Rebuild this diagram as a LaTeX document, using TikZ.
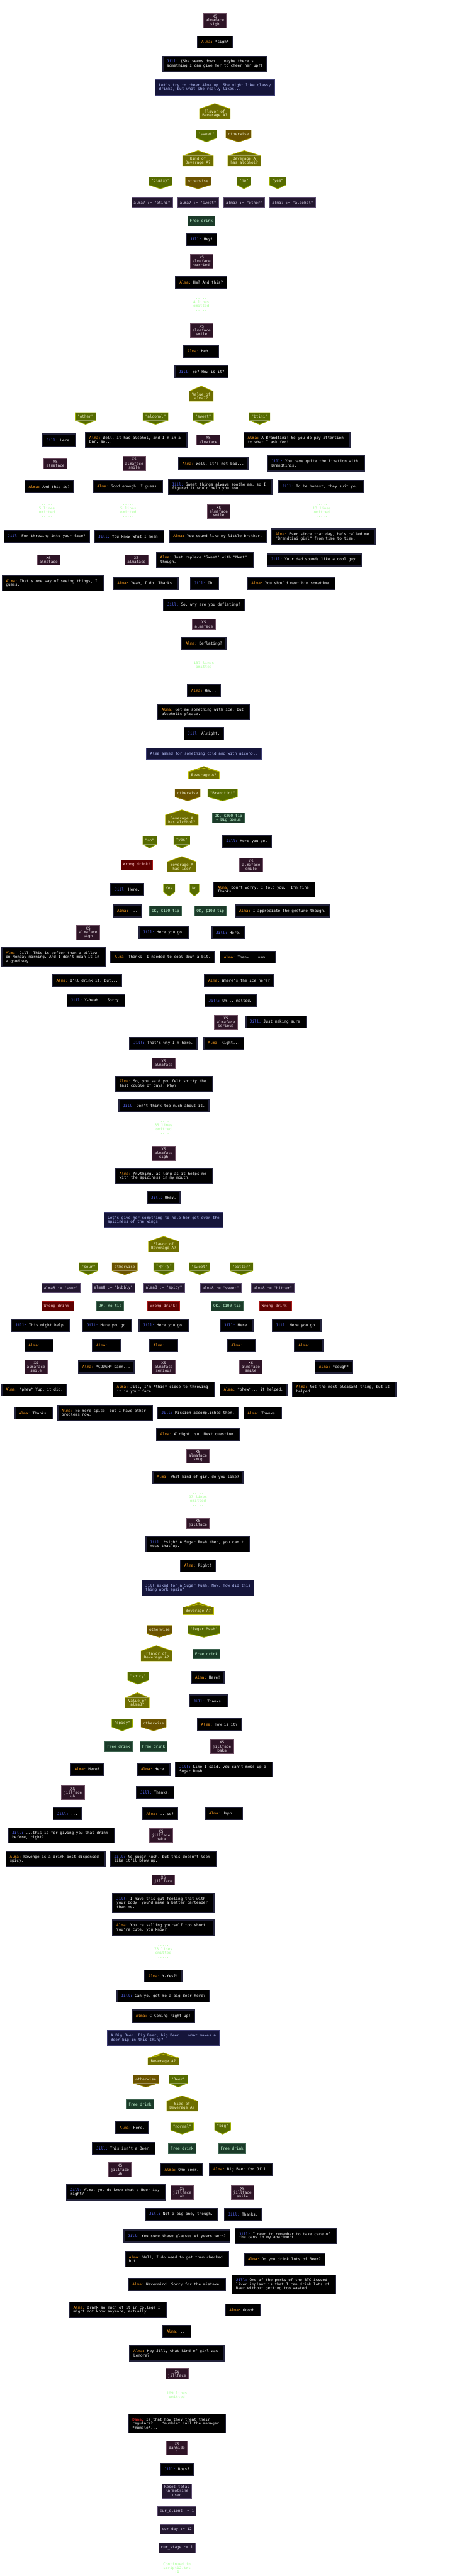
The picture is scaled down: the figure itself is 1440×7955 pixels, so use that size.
\documentclass[tikz,border=0pt]{standalone}
\usepackage{fontspec}
\setmonofont{DejaVu Sans Mono}
\usepackage{xcolor}
\usepackage{tikz}
\usetikzlibrary{arrows.meta,backgrounds}
\definecolor{almaname}{HTML}{FFA01E}
\definecolor{jillname}{HTML}{5A6CFF}
\definecolor{dananame}{HTML}{FF2A2A}
\definecolor{sayline}{HTML}{24243C}
\definecolor{facefill}{HTML}{2E1426}
\definecolor{faceline}{HTML}{6E5064}
\definecolor{facetext}{HTML}{EDE4EA}
\definecolor{narrfill}{HTML}{15153A}
\definecolor{narrline}{HTML}{3E3E74}
\definecolor{narrtext}{HTML}{BCC6FF}
\definecolor{condfill}{HTML}{6E6E00}
\definecolor{condline}{HTML}{BDBD00}
\definecolor{condtext}{HTML}{F4F4C4}
\definecolor{litfill}{HTML}{566B00}
\definecolor{litline}{HTML}{9CAE00}
\definecolor{othfill}{HTML}{6B5300}
\definecolor{othline}{HTML}{9E8E00}
\definecolor{casetext}{HTML}{EAEAC8}
\definecolor{asgnfill}{HTML}{23172F}
\definecolor{asgnline}{HTML}{5E4E72}
\definecolor{asgntext}{HTML}{DCD4EC}
\definecolor{goodfill}{HTML}{1B3B29}
\definecolor{goodline}{HTML}{3E6450}
\definecolor{goodtext}{HTML}{CCFFDA}
\definecolor{badfill}{HTML}{5E0000}
\definecolor{badline}{HTML}{A61A1A}
\definecolor{badtext}{HTML}{FFCACA}
\definecolor{omitcol}{HTML}{A6FF96}
\newcommand{\alma}{\textcolor{almaname}{Alma:}}
\newcommand{\jill}{\textcolor{jillname}{Jill:}}
\newcommand{\dana}{\textcolor{dananame}{Dana:}}
\newcommand{\tsp}{\hphantom{x}}

\begin{document}
\begin{tikzpicture}[x=1pt,y=-1pt,font=\ttfamily\fontsize{11.7}{11}\selectfont\frenchspacing,>=Latex]
\tikzset{say/.style={draw=sayline,line width=3,fill=black,text=white,align=left,inner xsep=12,inner ysep=2,outer sep=0,minimum height=37}, say2/.style={say,minimum height=47}, say3/.style={say,minimum height=58},
face/.style={draw=faceline,line width=1.5,fill=facefill,text=facetext,align=center,inner xsep=7.25,inner ysep=1,outer sep=0,minimum height=43,font=\ttfamily\fontsize{11.7}{12}\selectfont}, face2/.style={face,minimum height=31},
narr/.style={draw=narrline,line width=2,fill=narrfill,text=narrtext,align=left,inner xsep=11.5,inner ysep=2,outer sep=0,minimum height=36}, narr2/.style={narr,minimum height=47},
assign/.style={draw=asgnline,line width=1.5,fill=asgnfill,text=asgntext,align=center,inner xsep=6.75,inner ysep=1,outer sep=0,minimum height=30,font=\ttfamily\fontsize{11.7}{12}\selectfont}, assign3/.style={assign,minimum height=44},
good/.style={draw=goodline,line width=1.5,fill=goodfill,text=goodtext,align=center,inner xsep=6.75,inner ysep=1,outer sep=0,minimum height=30,font=\ttfamily\fontsize{11.7}{12}\selectfont}, good2/.style={good,minimum height=32},
bad/.style={draw=badline,line width=1.5,fill=badfill,text=badtext,align=center,inner xsep=6.75,inner ysep=1,outer sep=0,minimum height=30},
omit/.style={text=omitcol,align=center,inner sep=0,font=\ttfamily\fontsize{11.7}{12.3}\selectfont},
roof/.style={append after command={\pgfextra{\fill[condfill] (\tikzlastnode.north west) -- ([yshift=#1]\tikzlastnode.north) -- (\tikzlastnode.north east) -- cycle; \draw[condline,line width=1.5] (\tikzlastnode.south west) -- (\tikzlastnode.north west) -- ([yshift=#1]\tikzlastnode.north) -- (\tikzlastnode.north east) -- (\tikzlastnode.south east) -- cycle;}}},
cond/.style={fill=condfill,text=condtext,align=center,inner xsep=8.5,inner ysep=1,outer sep=0,minimum height=31,font=\ttfamily\fontsize{11.7}{12}\selectfont,roof=16}, cond1/.style={cond,minimum height=21,roof=11},
vee/.style 2 args={fill=#1,text=casetext,inner xsep=7,inner ysep=1,outer sep=0,minimum height=24,append after command={\pgfextra{\fill[#1] (\tikzlastnode.south west) -- ([yshift=-12]\tikzlastnode.south) -- (\tikzlastnode.south east) -- cycle; \draw[#2,line width=1.5] (\tikzlastnode.north west) -- (\tikzlastnode.north east) -- (\tikzlastnode.south east) -- ([yshift=-12]\tikzlastnode.south) -- (\tikzlastnode.south west) -- cycle;}}},
lit/.style={vee={litfill}{litline}}, otherw/.style={vee={othfill}{othline}},
e/.style={draw=white,line width=1,-{Latex[length=6,width=5]}}}
\useasboundingbox (0,0) rectangle (1440,7955);
% cheer Alma up: first drink
\node[omit] (dots0) at (663,4) {.....};
\node[face] (f1) at (663,64) {XS\\almaface\\sigh};
\node[say] (sigh) at (664,130) {\alma{} *sigh*};
\node[say2] (down) at (663,197) {\jill{} (She seems down... maybe there's\tsp\\something I can give her to cheer her up?)};
\node[narr2] (hint1) at (663,270) {Let's try to cheer Alma up. She might like classy\\drinks, but what she really likes...};
\node[cond] (flav1) at (663,351.5) {Flavor of\\Beverage A?};
\node[lit] (csweet1) at (637,414) {"sweet"};
\node[otherw] (coth1) at (736,414) {otherwise};
\node[cond] (kind) at (611,496.5) {Kind of\\Beverage A?};
\node[cond] (alc1) at (754,496.5) {Beverage A\\has alcohol?};
\node[lit] (cclassy) at (495,559) {"classy"};
\node[otherw] (coth2) at (611,559) {otherwise};
\node[lit] (cno1) at (753,559) {"no"};
\node[lit] (cyes1) at (857,559) {"yes"};
\node[assign] (abtini) at (469,625) {alma7 := "btini"};
\node[assign] (asweet) at (611,625) {alma7 := "sweet"};
\node[assign] (aother) at (754,625) {alma7 := "other"};
\node[assign] (aalc) at (903,625) {alma7 := "alcohol"};
\node[good] (free1) at (621,682) {Free drink};
\node[say] (hey) at (622,740) {\jill{} Hey!};
\node[face] (f2) at (622,806) {XS\\almaface\\worried};
\node[say] (hm) at (621,872) {\alma{} Hm? And this?};
\node[omit] (om4) at (621,942) {.....\\4 lines\\omitted\\.....};
\node[face] (f3) at (622,1020) {XS\\almaface\\smile};
\node[say] (heh) at (621,1085) {\alma{} Heh...};
\node[say] (sohow) at (622,1148) {\jill{} So? How is it?};
\node[cond] (val7) at (621,1223.5) {Value of\\alma7?};
\node[lit] (vother) at (264,1286) {"other"};
\node[lit] (valc) at (480,1286) {"alcohol"};
\node[lit] (vsweet) at (627,1286) {"sweet"};
\node[lit] (vbtini) at (801,1286) {"btini"};
% four reactions
\node[say] (here1) at (182,1359) {\jill{} Here.};
\node[say2] (wellalc) at (420,1359) {\alma{} Well, it has alcohol, and I'm in a\tsp\\bar, so...};
\node[face2] (f4) at (643,1359) {XS\\almaface};
\node[say2] (btini) at (916,1359) {\alma{} A Brandtini! So you do pay attention\tsp\\to what I ask for!};
\node[face2] (f5) at (171,1432) {XS\\almaface};
\node[face] (f6) at (414,1431) {XS\\almaface\\smile};
\node[say] (notbad) at (658,1432) {\alma{} Well, it's not bad...};
\node[say2] (fixation) at (975,1431) {\jill{} You have quite the fixation with\tsp\\Brandtinis.};
\node[say] (andthis) at (152,1503) {\alma{} And this is?};
\node[say] (goodenough) at (395,1503) {\alma{} Good enough, I guess.};
\node[say2] (soothe) at (679,1503) {\jill{} Sweet things always soothe me, so I\tsp\\figured it would help you too.};
\node[say] (suit) at (991,1503) {\jill{} To be honest, they suit you.};
\node[omit] (om5a) at (145,1579) {.....\\5 lines\\omitted\\.....};
\node[omit] (om5b) at (396,1579) {.....\\5 lines\\omitted\\.....};
\node[face] (f7) at (675,1580) {XS\\almaface\\smile};
\node[omit] (om13) at (993,1579) {.....\\13 lines\\omitted\\.....};
\node[say] (throwing) at (144,1657) {\jill{} For throwing into your face?};
\node[say] (mean) at (399,1657) {\jill{} You know what I mean.};
\node[say] (brother) at (672,1657) {\alma{} You sound like my little brother.};
\node[say2] (btgirl) at (998,1657) {\alma{} Ever since that day, he's called me\tsp\\"Brandtini girl" from time to time.};
\node[face2] (f8) at (150,1729) {XS\\almaface};
\node[face2] (f9) at (421,1729) {XS\\almaface};
\node[say2] (meat) at (632,1729) {\alma{} Just replace "Sweet" with "Meat"\tsp\\though.};
\node[say] (dad) at (970,1729) {\jill{} Your dad sounds like a cool guy.};
\node[say2] (oneway) at (163,1801) {\alma{} That's one way of seeing things, I\tsp\\guess.};
\node[say] (yeah) at (450,1801) {\alma{} Yeah, I do. Thanks.};
\node[say] (oh) at (631,1801) {\jill{} Oh.};
\node[say] (meet) at (899,1801) {\alma{} You should meet him sometime.};
\node[say] (deflating) at (629,1868) {\jill{} So, why are you deflating?};
\node[face2] (f10) at (629,1928) {XS\\almaface};
\node[say] (deflq) at (629,1988) {\alma{} Deflating?};
\node[omit] (om137) at (629,2057) {.....\\137 lines\\omitted\\.....};
% something cold with alcohol
\node[say] (hmm) at (629,2132) {\alma{} Hm...};
\node[say2] (ice) at (629,2199) {\alma{} Get me something with ice, but\tsp\\alcoholic please.};
\node[say] (alright) at (629,2266) {\jill{} Alright.};
\node[narr] (hint2) at (629,2328) {Alma asked for something cold and with alcohol.};
\node[cond1] (bev1) at (629,2393.5) {Beverage A?};
\node[otherw] (both) at (579,2449) {otherwise};
\node[lit] (bbrand) at (687,2449) {"Brandtini"};
\node[cond] (alc2) at (561,2532.5) {Beverage A\\has alcohol?};
\node[good2] (tip200) at (705,2526) {OK, \$200 tip\\+ Big bonus};
\node[lit] (ano) at (462,2595) {"no"};
\node[lit] (ayes) at (561,2595) {"yes"};
\node[say] (hereyougo1) at (762,2598) {\jill{} Here you go.};
\node[bad] (wrong1) at (422,2671) {Wrong drink!};
\node[cond] (hasice) at (561,2676.5) {Beverage A\\has ice?};
\node[face] (f11) at (775,2671) {XS\\almaface\\smile};
\node[say] (here2) at (393,2747) {\jill{} Here.};
\node[lit] (iyes) at (522,2743) {Yes};
\node[lit] (ino) at (600,2743) {No};
\node[say2] (dontworry) at (816,2747) {\alma{} Don't worry, I told you.~~I'm fine.\\Thanks.};
\node[say] (dots1) at (393,2813) {\alma{} ...};
\node[good] (tip100a) at (511,2813) {OK, \$100 tip};
\node[good] (tip100b) at (649,2813) {OK, \$100 tip};
\node[say] (gesture) at (872,2813) {\alma{} I appreciate the gesture though.};
\node[face] (f12) at (272,2880) {XS\\almaface\\sigh};
\node[say] (hereyougo2) at (505,2880) {\jill{} Here you go.};
\node[say] (here3) at (705,2880) {\jill{} Here.};
\node[say3] (pillow) at (166,2956) {\alma{} Jill. This is softer than a pillow\tsp\\on Monday morning. And I don't mean it in\tsp\\a good way.};
\node[say] (cool) at (502,2956) {\alma{} Thanks, I needed to cool down a bit.};
\node[say] (umm) at (765,2956) {\alma{} Than-... umm...};
\node[say] (drinkit) at (269,3028) {\alma{} I'll drink it, but...};
\node[say] (where) at (738,3028) {\alma{} Where's the ice here?};
\node[say] (sorry) at (296,3090) {\jill{} Y-Yeah... Sorry.};
\node[say] (melted) at (711,3090) {\jill{} Uh... melted.};
\node[face] (f13) at (697,3156) {XS\\almaface\\serious};
\node[say] (sure) at (852,3156) {\jill{} Just making sure.};
\node[say] (why) at (504,3222) {\jill{} That's why I'm here.};
\node[say] (right1) at (691,3222) {\alma{} Right...};
\node[face2] (f14) at (505,3282) {XS\\almaface};
\node[say2] (shitty) at (506,3347) {\alma{} So, you said you felt shitty the\tsp\\last couple of days. Why?};
\node[say] (toomuch) at (506,3414) {\jill{} Don't think too much about it.};
\node[omit] (om85) at (505,3484) {.....\\85 lines\\omitted\\.....};
% the spicy wings
\node[face] (f15) at (505,3562) {XS\\almaface\\sigh};
\node[say2] (spicy) at (506,3632) {\alma{} Anything, as long as it helps me\tsp\\with the spiciness in my mouth.};
\node[say] (okay) at (505,3699) {\jill{} Okay.};
\node[narr2] (hint3) at (505,3767) {Let's give her something to help her get over the\\spiciness of the wings.};
\node[cond] (flav2) at (505,3849.5) {Flavor of\\Beverage A?};
\node[lit] (fsour) at (273,3912) {"sour"};
\node[otherw] (foth) at (385,3912) {otherwise};
\node[lit] (fspicy) at (506,3912) {"spicy"};
\node[lit] (fsweet) at (616,3912) {"sweet"};
\node[lit] (fbitter) at (745,3912) {"bitter"};
\node[assign] (ssour) at (188,3977) {alma8 := "sour"};
\node[assign] (sbubbly) at (350,3977) {alma8 := "bubbly"};
\node[assign] (sspicy) at (506,3977) {alma8 := "spicy"};
\node[assign] (ssweet) at (681,3977) {alma8 := "sweet"};
\node[assign] (sbitter) at (842,3977) {alma8 := "bitter"};
\node[bad] (owrong1) at (178,4034) {Wrong drink!};
\node[good] (onotip) at (340,4034) {OK, no tip};
\node[bad] (owrong2) at (505,4034) {Wrong drink!};
\node[good] (otip100) at (701,4034) {OK, \$100 tip};
\node[bad] (owrong3) at (850,4034) {Wrong drink!};
\node[say] (jhelp) at (125,4093) {\jill{} This might help.};
\node[say] (jgo1) at (331,4093) {\jill{} Here you go.};
\node[say] (jgo2) at (505,4093) {\jill{} Here you go.};
\node[say] (jhere) at (730,4093) {\jill{} Here.};
\node[say] (jgo3) at (915,4093) {\jill{} Here you go.};
\node[say] (d1) at (120,4155) {\alma{} ...};
\node[say] (d2) at (329,4155) {\alma{} ...};
\node[say] (d3) at (505,4155) {\alma{} ...};
\node[say] (d4) at (745,4155) {\alma{} ...};
\node[say] (d5) at (953,4155) {\alma{} ...};
\node[face] (f16) at (111,4221) {XS\\almaface\\smile};
\node[say] (coughdamn) at (328,4221) {\alma{} *COUGH* Damn...};
\node[face] (f17) at (505,4221) {XS\\almaface\\serious};
\node[face] (f18) at (774,4221) {XS\\almaface\\smile};
\node[say] (cough) at (1030,4221) {\alma{} *cough*};
\node[say] (yup) at (106,4292) {\alma{} *phew* Yup, it did.};
\node[say2] (close) at (505,4291) {\alma{} Jill, I'm *this* close to throwing\tsp\\it in your face.};
\node[say] (helped) at (782,4292) {\alma{} *phew*... it helped.};
\node[say2] (pleasant) at (1062,4291) {\alma{} Not the most pleasant thing, but it\tsp\\helped.};
\node[say] (thanks1) at (104,4364) {\alma{} Thanks.};
\node[say2] (problems) at (324,4364) {\alma{} No more spice, but I have other\tsp\\problems now.};
\node[say] (mission) at (611,4364) {\jill{} Mission accomplished then.};
\node[say] (thanks2) at (810,4364) {\alma{} Thanks.};
\node[say] (nextq) at (611,4430) {\alma{} Alright, so. Next question.};
\node[face] (f19) at (611,4496) {XS\\almaface\\smug};
\node[say] (girl) at (611,4562) {\alma{} What kind of girl do you like?};
\node[omit] (om97) at (611,4632) {.....\\97 lines\\omitted\\.....};
% Sugar Rush
\node[face2] (f20) at (611,4704) {XS\\jillface};
\node[say2] (sugar) at (611,4769) {\jill{} *sigh* A Sugar Rush then, you can't\tsp\\mess that up.};
\node[say] (right2) at (611,4836) {\alma{} Right!};
\node[narr2] (hint4) at (611,4904) {Jill asked for a Sugar Rush. Now, how did this\\thing work again?};
\node[cond1] (bev2) at (612,4975.5) {Beverage A?};
\node[otherw] (soth) at (492,5032) {otherwise};
\node[lit] (srush) at (629,5032) {"Sugar Rush"};
\node[cond] (flav3) at (483,5113.5) {Flavor of\\Beverage A?};
\node[good] (free2) at (637,5108) {Free drink};
\node[lit] (rspicy) at (426,5177) {"spicy"};
\node[say] (here4) at (641,5180) {\alma{} Here!};
\node[cond] (val8) at (424,5258.5) {Value of\\alma8?};
\node[say] (thanks3) at (643,5253) {\jill{} Thanks.};
\node[lit] (vspicy) at (377,5321) {"spicy"};
\node[otherw] (voth) at (474,5321) {otherwise};
\node[say] (howis) at (677,5325) {\alma{} How is it?};
\node[good] (free3) at (366,5393) {Free drink};
\node[good] (free4) at (474,5393) {Free drink};
\node[face] (f21) at (685,5393) {XS\\jillface\\baka};
\node[say] (here5) at (269,5464) {\alma{} Here!};
\node[say] (here6) at (474,5464) {\alma{} Here.};
\node[say2] (likesaid) at (691,5464) {\jill{} Like I said, you can't mess up a\tsp\\Sugar Rush.};
\node[face] (f22) at (225,5535) {XS\\jillface\\uh};
\node[say] (thanks4) at (479,5535) {\jill{} Thanks.};
\node[say] (jdots) at (208,5601) {\jill{} ...};
\node[say] (soq) at (494,5601) {\alma{} ...so?};
\node[say] (hmph) at (691,5601) {\alma{} Hmph...};
\node[say2] (giving) at (189,5668) {\jill{} ...this is for giving you that drink\tsp\\before, right?};
\node[face] (f23) at (497,5668) {XS\\jillface\\baka};
\node[say2] (revenge) at (171,5740) {\alma{} Revenge is a drink best dispensed\tsp\\spicy.};
\node[say2] (blowup) at (504,5740) {\jill{} No Sugar Rush, but this doesn't look\tsp\\like it'll blow up.};
\node[face2] (f24) at (504,5805) {XS\\jillface};
\node[say3] (gut) at (504,5876) {\jill{} I have this gut feeling that with\tsp\\your body, you'd make a better bartender\tsp\\than me.};
\node[say2] (cute) at (504,5953) {\alma{} You're selling yourself too short.\tsp\\You're cute, you know?};
\node[omit] (om78) at (504,6028) {.....\\78 lines\\omitted\\.....};
% big Beer
\node[say] (yes) at (504,6102) {\alma{} Y-Yes?!};
\node[say] (bigbeer) at (504,6164) {\jill{} Can you get me a big Beer here?};
\node[say] (coming) at (504,6226) {\alma{} C-Coming right up!};
\node[narr2] (hint5) at (504,6293) {A Big Beer. Big Beer, big Beer... what makes a\\Beer big in this thing?};
\node[cond1] (bev3) at (504,6365.5) {Beverage A?};
\node[otherw] (eoth) at (450,6421) {otherwise};
\node[lit] (ebeer) at (550,6421) {"Beer"};
\node[good] (free5) at (432,6498) {Free drink};
\node[cond] (size) at (562,6503.5) {Size of\\Beverage A?};
\node[say] (here7) at (408,6570) {\alma{} Here.};
\node[lit] (znormal) at (562,6566) {"normal"};
\node[lit] (zbig) at (687,6566) {"big"};
\node[say] (notbeer) at (382,6635) {\jill{} This isn't a Beer.};
\node[good] (free6) at (562,6635) {Free drink};
\node[good] (free7) at (716,6635) {Free drink};
\node[face] (f25) at (370,6700) {XS\\jillface\\uh};
\node[say] (onebeer) at (561,6700) {\alma{} One Beer.};
\node[say] (bigjill) at (743,6700) {\alma{} Big Beer for Jill.};
\node[say2] (whatbeer) at (358,6770) {\jill{} Alma, you do know what a Beer is,\tsp\\right?};
\node[face] (f26) at (562,6771) {XS\\jillface\\uh};
\node[face] (f27) at (748,6771) {XS\\jillface\\smile};
\node[say] (notbig) at (559,6838) {\jill{} Not a big one, though.};
\node[say] (thanks5) at (750,6838) {\jill{} Thanks.};
\node[say] (glasses) at (546,6905) {\jill{} You sure those glasses of yours work?};
\node[say2] (cans) at (882,6905) {\jill{} I need to remember to take care of\tsp\\the cans in my apartment.};
\node[say2] (checked) at (546,6977) {\alma{} Well, I do need to get them checked\tsp\\but...};
\node[say] (lots) at (878,6977) {\alma{} Do you drink lots of Beer?};
\node[say] (mistake) at (546,7055) {\alma{} Nevermind. Sorry for the mistake.};
\node[say3] (perks) at (876,7055) {\jill{} One of the perks of the BTC-issued\tsp\\liver implant is that I can drink lots of\tsp\\Beer without getting too wasted.};
\node[say2] (college) at (364,7133) {\alma{} Drank so much of it in college I\tsp\\might not know anymore, actually.};
\node[say] (ooh) at (750,7133) {\alma{} Ooooh.};
\node[say] (dots2) at (546,7200) {\alma{} ...};
\node[say2] (lenore) at (546,7267) {\alma{} Hey Jill, what kind of girl was\tsp\\Lenore?};
\node[face2] (f28) at (546,7331) {XS\\jillface};
\node[omit] (om109) at (546,7400) {.....\\109 lines\\omitted\\.....};
% end of the day
\node[say3] (dana) at (546,7484) {\dana{} Is that how they treat their\tsp\\regulars?... *mumble* call the manager\tsp\\*mumble*...};
\node[face] (danhide) at (546,7560) {XS\\danhide\\1};
\node[say] (boss) at (546,7626) {\jill{} Boss?};
\node[assign3] (reset) at (546,7692) {Reset total\\Karmotrine\\used};
\node[assign] (client) at (546,7755) {cur\_client := 1};
\node[assign] (day) at (546,7811) {cur\_day := 12};
\node[assign] (stage) at (546,7868) {cur\_stage := 1};
\node[omit] (cont) at (546,7930) {Continued in\\script12.txt\\:1};
\begin{scope}[on background layer]
\fill[white] (0,0) rectangle (1440,7955);
\draw[e] (dots0)--(f1);\draw[e] (f1)--(sigh);\draw[e] (sigh)--(down);\draw[e] (down)--(hint1);\draw[e] (hint1)--(flav1);
\draw[e] (flav1)--(csweet1);\draw[e] (flav1)--(coth1);\draw[e] (csweet1)--(kind);\draw[e] (coth1)--(alc1);
\draw[e] (kind)--(cclassy);\draw[e] (kind)--(coth2);\draw[e] (alc1)--(cno1);\draw[e] (alc1)--(cyes1);
\draw[e] (cclassy)--(abtini);\draw[e] (coth2)--(asweet);\draw[e] (cno1)--(aother);\draw[e] (cyes1)--(aalc);
\draw[e] (abtini)--(free1);\draw[e] (asweet)--(free1);\draw[e] (aother)--(free1);\draw[e] (aalc)--(free1);
\draw[e] (free1)--(hey);\draw[e] (hey)--(f2);\draw[e] (f2)--(hm);\draw[e] (hm)--(om4);\draw[e] (om4)--(f3);\draw[e] (f3)--(heh);\draw[e] (heh)--(sohow);\draw[e] (sohow)--(val7);
\draw[e] (val7)--(vother);\draw[e] (val7)--(valc);\draw[e] (val7)--(vsweet);\draw[e] (val7)--(vbtini);
\draw[e] (vother)--(here1);\draw[e] (here1)--(f5);\draw[e] (f5)--(andthis);\draw[e] (andthis)--(om5a);\draw[e] (om5a)--(throwing);\draw[e] (throwing)--(f8);\draw[e] (f8)--(oneway);\draw[e] (oneway)--(deflating);
\draw[e] (valc)--(wellalc);\draw[e] (wellalc)--(f6);\draw[e] (f6)--(goodenough);\draw[e] (goodenough)--(om5b);\draw[e] (om5b)--(mean);\draw[e] (mean)--(f9);\draw[e] (f9)--(yeah);\draw[e] (yeah)--(deflating);
\draw[e] (vsweet)--(f4);\draw[e] (f4)--(notbad);\draw[e] (notbad)--(soothe);\draw[e] (soothe)--(f7);\draw[e] (f7)--(brother);\draw[e] (brother)--(meat);\draw[e] (meat)--(oh);\draw[e] (oh)--(deflating);
\draw[e] (vbtini)--(btini);\draw[e] (btini)--(fixation);\draw[e] (fixation)--(suit);\draw[e] (suit)--(om13);\draw[e] (om13)--(btgirl);\draw[e] (btgirl)--(dad);\draw[e] (dad)--(meet);\draw[e] (meet)--(deflating);
\draw[e] (deflating)--(f10);\draw[e] (f10)--(deflq);\draw[e] (deflq)--(om137);\draw[e] (om137)--(hmm);\draw[e] (hmm)--(ice);\draw[e] (ice)--(alright);\draw[e] (alright)--(hint2);\draw[e] (hint2)--(bev1);
\draw[e] (bev1)--(both);\draw[e] (bev1)--(bbrand);\draw[e] (both)--(alc2);\draw[e] (bbrand)--(tip200);\draw[e] (alc2)--(ano);\draw[e] (alc2)--(ayes);\draw[e] (tip200)--(hereyougo1);
\draw[e] (ano)--(wrong1);\draw[e] (ayes)--(hasice);\draw[e] (hereyougo1)--(f11);\draw[e] (wrong1)--(here2);\draw[e] (hasice)--(iyes);\draw[e] (hasice)--(ino);\draw[e] (f11)--(dontworry);
\draw[e] (here2)--(dots1);\draw[e] (iyes)--(tip100a);\draw[e] (ino)--(tip100b);\draw[e] (dontworry)--(gesture);\draw[e] (dots1)--(f12);\draw[e] (tip100a)--(hereyougo2);\draw[e] (tip100b)--(here3);
\draw[e] (f12)--(pillow);\draw[e] (hereyougo2)--(cool);\draw[e] (here3)--(umm);\draw[e] (pillow)--(drinkit);\draw[e] (umm)--(where);\draw[e] (drinkit)--(sorry);\draw[e] (where)--(melted);\draw[e] (melted)--(f13);
\draw[e] (gesture)--(sure);\draw[e] (cool)--(why);\draw[e] (sure)--(right1);\draw[e] (f13)--(right1);\draw[e] (sorry)--(f14);\draw[e] (why)--(f14);\draw[e] (right1)--(f14);
\draw[e] (f14)--(shitty);\draw[e] (shitty)--(toomuch);\draw[e] (toomuch)--(om85);\draw[e] (om85)--(f15);\draw[e] (f15)--(spicy);\draw[e] (spicy)--(okay);\draw[e] (okay)--(hint3);\draw[e] (hint3)--(flav2);
\draw[e] (flav2)--(fsour);\draw[e] (flav2)--(foth);\draw[e] (flav2)--(fspicy);\draw[e] (flav2)--(fsweet);\draw[e] (flav2)--(fbitter);
\draw[e] (fsour)--(ssour);\draw[e] (foth)--(sbubbly);\draw[e] (fspicy)--(sspicy);\draw[e] (fsweet)--(ssweet);\draw[e] (fbitter)--(sbitter);
\draw[e] (ssour)--(owrong1);\draw[e] (sbubbly)--(onotip);\draw[e] (sspicy)--(owrong2);\draw[e] (ssweet)--(otip100);\draw[e] (sbitter)--(owrong3);
\draw[e] (owrong1)--(jhelp);\draw[e] (onotip)--(jgo1);\draw[e] (owrong2)--(jgo2);\draw[e] (otip100)--(jhere);\draw[e] (owrong3)--(jgo3);
\draw[e] (jhelp)--(d1);\draw[e] (jgo1)--(d2);\draw[e] (jgo2)--(d3);\draw[e] (jhere)--(d4);\draw[e] (jgo3)--(d5);
\draw[e] (d1)--(f16);\draw[e] (d2)--(coughdamn);\draw[e] (d3)--(f17);\draw[e] (d4)--(f18);\draw[e] (d5)--(cough);
\draw[e] (f16)--(yup);\draw[e] (coughdamn)--(problems);\draw[e] (f17)--(close);\draw[e] (f18)--(helped);\draw[e] (cough)--(pleasant);
\draw[e] (yup)--(thanks1);\draw[e] (helped)--(mission);\draw[e] (pleasant)--(thanks2);
\draw[e] (thanks1)--(nextq);\draw[e] (problems)--(nextq);\draw[e] (close)--(nextq);\draw[e] (mission)--(nextq);\draw[e] (thanks2)--(nextq);
\draw[e] (nextq)--(f19);\draw[e] (f19)--(girl);\draw[e] (girl)--(om97);\draw[e] (om97)--(f20);\draw[e] (f20)--(sugar);\draw[e] (sugar)--(right2);\draw[e] (right2)--(hint4);\draw[e] (hint4)--(bev2);
\draw[e] (bev2)--(soth);\draw[e] (bev2)--(srush);\draw[e] (soth)--(flav3);\draw[e] (srush)--(free2);\draw[e] (flav3)--(rspicy);\draw[e] (free2)--(here4);\draw[e] (rspicy)--(val8);\draw[e] (here4)--(thanks3);
\draw[e] (val8)--(vspicy);\draw[e] (val8)--(voth);\draw[e] (thanks3)--(howis);\draw[e] (vspicy)--(free3);\draw[e] (voth)--(free4);\draw[e] (howis)--(f21);
\draw[e] (free3)--(here5);\draw[e] (free4)--(here6);\draw[e] (f21)--(likesaid);\draw[e] (here5)--(f22);\draw[e] (here6)--(thanks4);\draw[e] (f22)--(jdots);\draw[e] (thanks4)--(soq);\draw[e] (likesaid)--(hmph);
\draw[e] (jdots)--(giving);\draw[e] (giving)--(revenge);\draw[e] (soq)--(f23);\draw[e] (f23)--(blowup);\draw[e] (revenge)--(f24);\draw[e] (blowup)--(f24);\draw[e] (hmph)--(f24);
\draw[e] (f24)--(gut);\draw[e] (gut)--(cute);\draw[e] (cute)--(om78);\draw[e] (om78)--(yes);\draw[e] (yes)--(bigbeer);\draw[e] (bigbeer)--(coming);\draw[e] (coming)--(hint5);\draw[e] (hint5)--(bev3);
\draw[e] (bev3)--(eoth);\draw[e] (bev3)--(ebeer);\draw[e] (eoth)--(free5);\draw[e] (ebeer)--(size);\draw[e] (free5)--(here7);\draw[e] (size)--(znormal);\draw[e] (size)--(zbig);
\draw[e] (here7)--(notbeer);\draw[e] (znormal)--(free6);\draw[e] (zbig)--(free7);\draw[e] (notbeer)--(f25);\draw[e] (free6)--(onebeer);\draw[e] (free7)--(bigjill);
\draw[e] (f25)--(whatbeer);\draw[e] (onebeer)--(f26);\draw[e] (bigjill)--(f27);\draw[e] (f26)--(notbig);\draw[e] (f27)--(thanks5);\draw[e] (notbig)--(glasses);\draw[e] (thanks5)--(cans);
\draw[e] (glasses)--(checked);\draw[e] (cans)--(lots);\draw[e] (checked)--(mistake);\draw[e] (lots)--(perks);\draw[e] (whatbeer)--(college);\draw[e] (perks)--(ooh);
\draw[e] (college)--(dots2);\draw[e] (mistake)--(dots2);\draw[e] (ooh)--(dots2);\draw[e] (dots2)--(lenore);\draw[e] (lenore)--(f28);\draw[e] (f28)--(om109);\draw[e] (om109)--(dana);
\draw[e] (dana)--(danhide);\draw[e] (danhide)--(boss);\draw[e] (boss)--(reset);\draw[e] (reset)--(client);\draw[e] (client)--(day);\draw[e] (day)--(stage);\draw[e] (stage)--(cont);
\end{scope}
\end{tikzpicture}
\end{document}
